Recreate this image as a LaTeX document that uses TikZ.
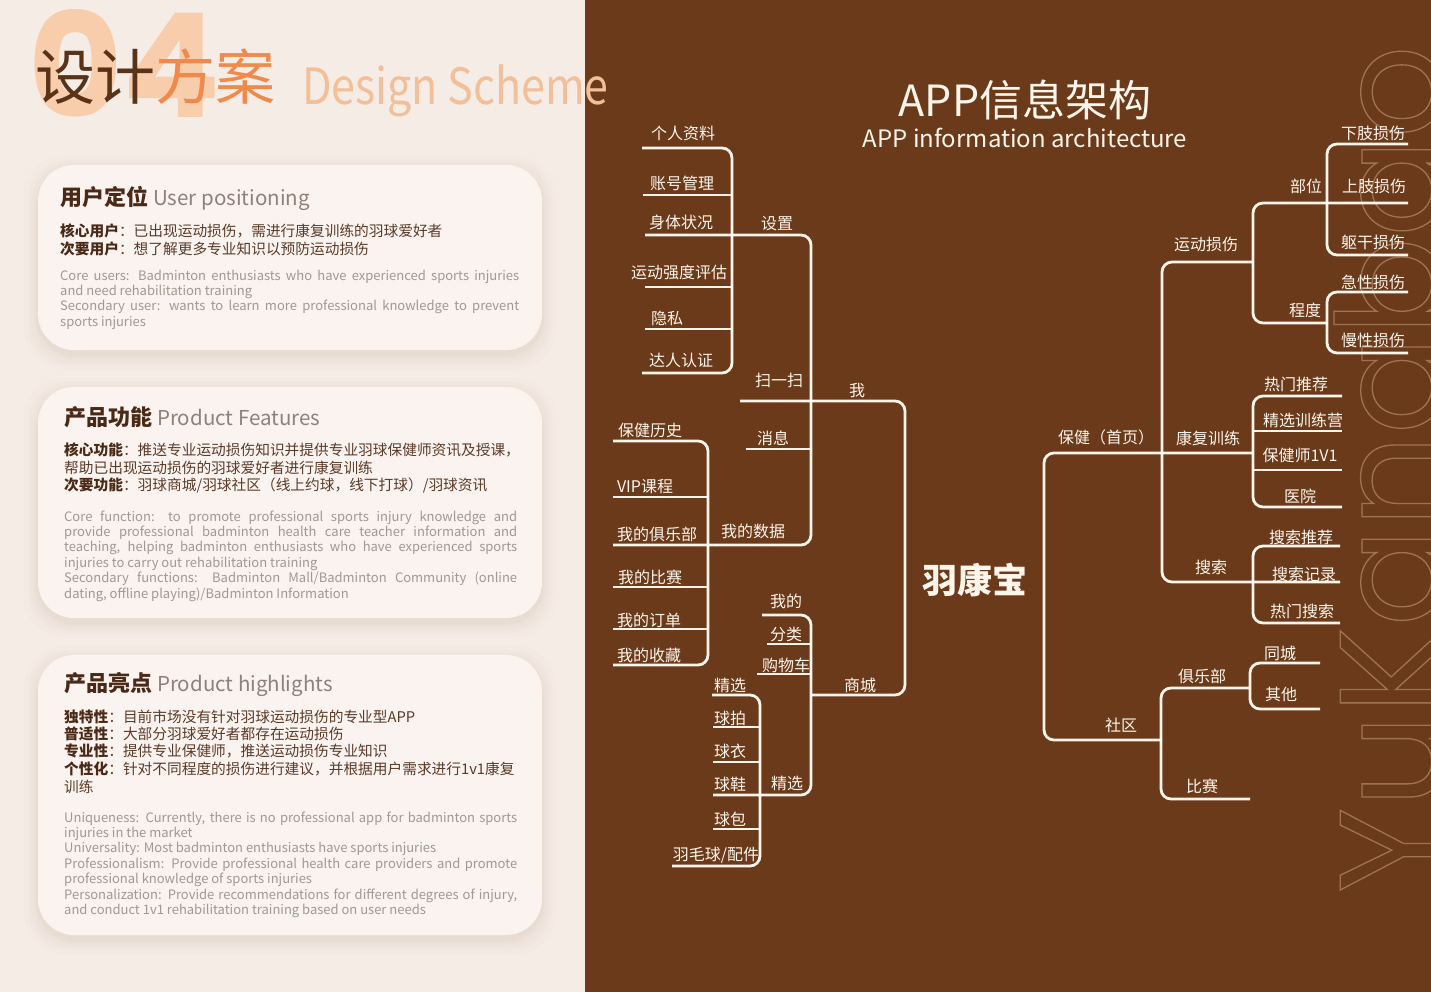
\documentclass[tikz,border=0pt]{standalone}
\usepackage{fontspec}
\setmainfont{Noto Sans CJK SC}
\newfontfamily\popfont{Poppins}
\newfontfamily\narrowfont{Noto Sans CJK SC}[FakeStretch=0.86]
\definecolor{brownbg}{HTML}{6A3A1B}
\definecolor{creambg}{HTML}{F6ECE6}
\definecolor{cardc}{HTML}{FAF3EF}
\definecolor{linec}{HTML}{FFF5EA}
\definecolor{darkt}{HTML}{4A2A17}
\definecolor{bodyt}{HTML}{5B3B29}
\definecolor{grayt}{HTML}{A39791}
\definecolor{titlegray}{HTML}{8E817A}
\definecolor{peach}{HTML}{F7CDAC}
\definecolor{orangec}{HTML}{EF8A4C}
\definecolor{darkbrown}{HTML}{5A3218}
\definecolor{peachtext}{HTML}{F2BF98}
\definecolor{shadowc}{HTML}{C9B2A4}
\tolerance=10000
\hyphenpenalty=10000
\begin{document}
\begin{tikzpicture}[x=1pt,y=-1pt,
  lbl/.style={font=\fontsize{16}{16}\selectfont, text=linec, inner sep=0pt},
  brk/.style={draw=linec, line width=2.8pt, rounded corners=10pt},
  cardtitle/.style={anchor=base west, inner sep=0pt, text=darkt},
  cnline/.style={anchor=base west, inner sep=0pt, text=bodyt, font=\fontsize{14.7}{14.7}\selectfont},
  enpara/.style={anchor=base west, inner sep=0pt, text=grayt, align=justify, font=\fontsize{13}{15.4}\selectfont},
  cardbg/.style={fill=cardc, rounded corners=36pt},
  cardsh/.style={fill=shadowc, rounded corners=40pt}]
\useasboundingbox (0,0) rectangle (1431,992);
% backgrounds
\fill[creambg] (0,0) rectangle (585,992);
\fill[brownbg] (585,0) rectangle (1431,992);

% watermark
\node[rotate=90, anchor=base west, inner sep=0pt, font=\popfont\fontsize{146}{146}\selectfont] (wm) at (1442,893)
  {\special{pdf:literal direct 0.62 0.45 0.33 RG 1.3 w 1 Tr}YuKangbao\special{pdf:literal direct 0 Tr}};

% header
\node[anchor=base west, inner sep=0pt, text=peach, font=\popfont\bfseries\fontsize{145}{145}\selectfont] (num) at (28,118) {04};
\node[anchor=base west, inner sep=0pt, font=\fontsize{60}{60}\selectfont] (sjfa) at (35,100) {\textcolor{darkbrown}{设计}\textcolor{orangec}{方案}};
\node[anchor=base west, inner sep=0pt, text=peachtext, font=\narrowfont\fontsize{50}{50}\selectfont] (ds) at (302,105) {Design Scheme};

% card shadows and cards
\foreach \ya/\yb in {165/350,387/618,655/935}{
  \foreach \e/\o in {14/0.03,10/0.04,7/0.05,4/0.06,2/0.08}{
    \fill[cardsh, opacity=\o] (38-\e,\ya-\e+5) rectangle (542+\e,\yb+\e+5);
  }
  \fill[cardbg] (38,\ya) rectangle (542,\yb);
}

% card 1
\node[cardtitle] (c1t) at (60,205.5) {\fontsize{22}{22}\selectfont\bfseries 用户定位\ \textcolor{titlegray}{\mdseries\fontsize{20.5}{20.5}\selectfont User positioning}};
\node[cnline] (c1a) at (60,236.5) {\textbf{\textcolor{darkt}{核心用户}}：已出现运动损伤，需进行康复训练的羽球爱好者};
\node[cnline] (c1b) at (60,254.5) {\textbf{\textcolor{darkt}{次要用户}}：想了解更多专业知识以预防运动损伤};
\node[enpara, text width=459pt] (c1e) at (60,280) {Core users: Badminton enthusiasts who have experienced sports injuries\linebreak and need rehabilitation training\newline Secondary user: wants to learn more professional knowledge to prevent\linebreak sports injuries};

% card 2
\node[cardtitle] (c2t) at (64,425.5) {\fontsize{22}{22}\selectfont\bfseries 产品功能\ \textcolor{titlegray}{\mdseries\fontsize{20.5}{20.5}\selectfont Product Features}};
\node[cnline] (c2a) at (64,455.5) {\textbf{\textcolor{darkt}{核心功能}}：推送专业运动损伤知识并提供专业羽球保健师资讯及授课，};
\node[cnline] (c2b) at (64,473.5) {帮助已出现运动损伤的羽球爱好者进行康复训练};
\node[cnline] (c2c) at (64,490.5) {\textbf{\textcolor{darkt}{次要功能}}：羽球商城/羽球社区（线上约球，线下打球）/羽球资讯};
\node[enpara, text width=453pt] (c2e) at (64,521) {Core function: to promote professional sports injury knowledge and\linebreak provide professional badminton health care teacher information and\linebreak teaching, helping badminton enthusiasts who have experienced sports\linebreak injuries to carry out rehabilitation training\newline Secondary functions: Badminton Mall/Badminton Community (online\linebreak dating, offline playing)/Badminton Information};

% card 3
\node[cardtitle] (c3t) at (64,691.5) {\fontsize{22}{22}\selectfont\bfseries 产品亮点\ \textcolor{titlegray}{\mdseries\fontsize{20.5}{20.5}\selectfont Product highlights}};
\node[cnline] (c3a) at (64,722.5) {\textbf{\textcolor{darkt}{独特性}}：目前市场没有针对羽球运动损伤的专业型APP};
\node[cnline] (c3b) at (64,739.5) {\textbf{\textcolor{darkt}{普适性}}：大部分羽球爱好者都存在运动损伤};
\node[cnline] (c3c) at (64,756.5) {\textbf{\textcolor{darkt}{专业性}}：提供专业保健师，推送运动损伤专业知识};
\node[cnline] (c3d) at (64,774.5) {\textbf{\textcolor{darkt}{个性化}}：针对不同程度的损伤进行建议，并根据用户需求进行1v1康复};
\node[cnline] (c3e) at (64,792.5) {训练};
\node[enpara, text width=453pt] (c3f) at (64,822) {Uniqueness: Currently, there is no professional app for badminton sports\linebreak injuries in the market\newline Universality: Most badminton enthusiasts have sports injuries\newline Professionalism: Provide professional health care providers and promote\linebreak professional knowledge of sports injuries\newline Personalization: Provide recommendations for different degrees of injury,\linebreak and conduct 1v1 rehabilitation training based on user needs};

% right titles
\node[text=linec, inner sep=0pt, font=\fontsize{43}{43}\selectfont] (t1) at (1025,100) {APP信息架构};
\node[text=linec, inner sep=0pt, font=\fontsize{24}{24}\selectfont] (t2) at (1025,138) {APP information architecture};
\node[text=linec, inner sep=0pt, font=\fontsize{35}{35}\selectfont\bfseries] (root) at (975,580) {羽康宝};

% ---------- left tree brackets ----------
\draw[brk] (740,401) -- (905,401) -- (905,695) -- (811,695);
\draw[brk] (645,235) -- (811,235) -- (811,545) -- (613,545);
\draw[brk] (746,449) -- (811,449);
\draw[brk] (642,148) -- (732,148) -- (732,373) -- (642,373);
\draw[brk] (643,195) -- (732,195);
\draw[brk] (645,287) -- (732,287);
\draw[brk] (645,329) -- (732,329);
\draw[brk] (613,441) -- (708,441) -- (708,665) -- (613,665);
\draw[brk] (613,497) -- (708,497);
\draw[brk] (613,587) -- (708,587);
\draw[brk] (613,629) -- (708,629);
\draw[brk] (762,615) -- (811,615) -- (811,795) -- (713,795);
\draw[brk] (767,644) -- (811,644);
\draw[brk] (757,674) -- (811,674);
\draw[brk] (712,695) -- (760,695) -- (760,866) -- (672,866);
\draw[brk] (713,727) -- (760,727);
\draw[brk] (713,762) -- (760,762);
\draw[brk] (713,829) -- (760,829);

% ---------- right tree brackets ----------
\draw[brk] (1253,453) -- (1044,453) -- (1044,740) -- (1161,740);
\draw[brk] (1253,262) -- (1162,262) -- (1162,582) -- (1340,582);
\draw[brk] (1408,203) -- (1253,203) -- (1253,323) -- (1327,323);
\draw[brk] (1408,144) -- (1327,144) -- (1327,255) -- (1408,255);
\draw[brk] (1408,292) -- (1327,292) -- (1327,353) -- (1408,353);
\draw[brk] (1342,396) -- (1253,396) -- (1253,507) -- (1342,507);
\draw[brk] (1253,431) -- (1342,431);
\draw[brk] (1253,470) -- (1342,470);
\draw[brk] (1340,546) -- (1253,546) -- (1253,623) -- (1340,623);
\draw[brk] (1250,688) -- (1161,688) -- (1161,799) -- (1250,799);
\draw[brk] (1320,663) -- (1250,663) -- (1250,709) -- (1320,709);

% ---------- left labels ----------
\node[lbl] (grzl) at (683,133) {个人资料};
\node[lbl] (zhgl) at (682,183) {账号管理};
\node[lbl] (stzk) at (681,222) {身体状况};
\node[lbl] (ydqd) at (679,272) {运动强度评估};
\node[lbl] (ys) at (667,318) {隐私};
\node[lbl] (drrz) at (681,360) {达人认证};
\node[lbl] (sz) at (777,224) {设置};
\node[lbl] (sys) at (779,380) {扫一扫};
\node[lbl] (wo) at (857,391) {我};
\node[lbl] (xx) at (773,438) {消息};
\node[lbl] (bjls) at (650,430) {保健历史};
\node[lbl] (vip) at (645,487) {VIP课程};
\node[lbl] (wdjlb) at (657,534) {我的俱乐部};
\node[lbl] (wdsj) at (753,531) {我的数据};
\node[lbl] (wdbs) at (650,577) {我的比赛};
\node[lbl] (wddd) at (649,620) {我的订单};
\node[lbl] (wdsc) at (649,655) {我的收藏};
\node[lbl] (wd) at (786,601) {我的};
\node[lbl] (fl) at (786,634) {分类};
\node[lbl] (gwc) at (786,665) {购物车};
\node[lbl] (sc) at (860,685) {商城};
\node[lbl] (jx1) at (730,685) {精选};
\node[lbl] (qp) at (730,718) {球拍};
\node[lbl] (qy) at (730,751) {球衣};
\node[lbl] (qx) at (730,784) {球鞋};
\node[lbl] (jx2) at (787,783) {精选};
\node[lbl] (qb) at (730,819) {球包};
\node[lbl] (ymq) at (716,855) {羽毛球/配件};

% ---------- right labels ----------
\node[lbl] (bj) at (1106,437) {保健（首页）};
\node[lbl] (ydss) at (1206,244) {运动损伤};
\node[lbl] (bw) at (1306,186) {部位};
\node[lbl] (xzss) at (1373,133) {下肢损伤};
\node[lbl] (szss) at (1374,186) {上肢损伤};
\node[lbl] (qgss) at (1373,242) {躯干损伤};
\node[lbl] (jxss) at (1373,282) {急性损伤};
\node[lbl] (cd) at (1305,310) {程度};
\node[lbl] (mxss) at (1373,340) {慢性损伤};
\node[lbl] (kfxl) at (1208,438) {康复训练};
\node[lbl] (rmtj) at (1296,384) {热门推荐};
\node[lbl] (jxxly) at (1303,420) {精选训练营};
\node[lbl] (bjs) at (1300,455) {保健师1V1};
\node[lbl] (yy) at (1300,496) {医院};
\node[lbl] (ss) at (1211,567) {搜索};
\node[lbl] (sstj) at (1301,537) {搜索推荐};
\node[lbl] (ssjl) at (1304,574) {搜索记录};
\node[lbl] (rmss) at (1302,611) {热门搜索};
\node[lbl] (sq) at (1121,725) {社区};
\node[lbl] (jlb) at (1202,676) {俱乐部};
\node[lbl] (bs) at (1202,786) {比赛};
\node[lbl] (tc) at (1280,653) {同城};
\node[lbl] (qt) at (1281,694) {其他};
\end{tikzpicture}
\end{document}
